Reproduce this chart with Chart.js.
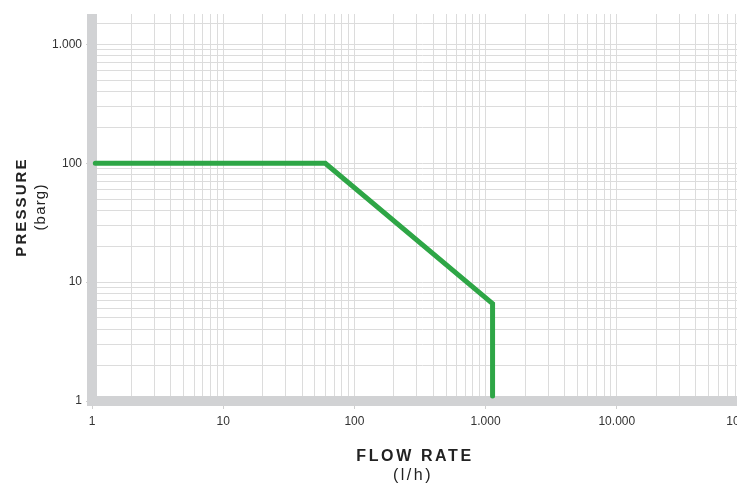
<!DOCTYPE html>
<html>
<head>
<meta charset="utf-8">
<script src="https://cdn.jsdelivr.net/npm/chart.js@4/dist/chart.umd.min.js"></script>
<style>
  html, body { margin: 0; padding: 0; background: #fff; }
  #wrap { position: absolute; left: 0; top: 0; width: 737px; height: 483px; overflow: hidden; }
  #c { position: absolute; left: 0; top: 0; }
  .t { position: absolute; font-family: "Liberation Sans", Arial, Helvetica, sans-serif; color: #222; white-space: nowrap; line-height: 1; }
  #yt1 { font-weight: bold; font-size: 15px; letter-spacing: 2.1px; left: 20px; top: 207px; transform: translate(-50%, -50%) rotate(-90deg); }
  #yt2 { font-size: 15px; letter-spacing: 1.2px; left: 39px; top: 207px; transform: translate(-50%, -50%) rotate(-90deg); }
  #xt1 { font-weight: bold; font-size: 16px; letter-spacing: 2.6px; left: 415px; top: 456px; transform: translate(-50%, -50%); }
  #xt2 { font-size: 16px; letter-spacing: 2.5px; left: 413px; top: 475px; transform: translate(-50%, -50%); }
</style>
</head>
<body>
<div id="wrap"><canvas id="c" width="778" height="483"></canvas></div>
<div class="t" id="yt1">PRESSURE</div>
<div class="t" id="yt2">(barg)</div>
<div class="t" id="xt1">FLOW RATE</div>
<div class="t" id="xt2">(l/h)</div>
<script>
// ---- data ----
const flowRate = [1.06, 60, 1130, 1130];      // l/h
const pressure = [100, 100, 6.6, 1.1];         // barg

// labelled ticks
const xLabelValues = [1, 10, 100, 1000, 10000, 100000];
const xTickLabels  = ['1', '10', '100', '1.000', '10.000', '100.000'];
const yLabelValues = [1, 10, 100, 1000];
const yTickLabels  = ['1', '10', '100', '1.000'];

// grid line positions
const xGridValues = [1,2,3,4,5,6,7,8,9,
  10,20,30,40,50,60,70,80,90,
  100,200,300,400,500,600,700,800,900,
  1000,2000,3000,4000,5000,6000,7000,8000,9000,
  10000,20000,30000,40000,50000,60000,70000,80000,90000,
  100000];
const yGridValues = [1,2,3,4,5,6,7,8,9,
  10,20,30,40,50,60,70,80,90,
  100,200,300,400,500,600,700,800,900,
  1000,1500];

const xMin = 1, xMax = 100000;
const yMin = 1, yMax = 1800;

const points = flowRate.map((x, i) => ({ x: x, y: pressure[i] }));

const GRID = '#dcdcdc';
const AXIS = '#d1d2d4';
const TICKFONT = { family: '"Liberation Sans", Arial, Helvetica, sans-serif', size: 12 };

function labelFor(values, labels) {
  return function (v) {
    const i = values.indexOf(v);
    return i >= 0 ? labels[i] : '';
  };
}

// keep the axis bars from sticking out above the plot area
const trimTop = {
  id: 'trimTop',
  beforeDatasetsDraw(chart) {
    const ctx = chart.ctx;
    ctx.save();
    ctx.fillStyle = '#ffffff';
    ctx.fillRect(0, 0, chart.width, chart.chartArea.top);
    ctx.restore();
  }
};

new Chart(document.getElementById('c'), {
  type: 'line',
  data: {
    datasets: [{
      data: points,
      borderColor: '#2ea646',
      borderWidth: 5,
      borderCapStyle: 'round',
      borderJoinStyle: 'miter',
      pointRadius: 0,
      pointHoverRadius: 0,
      tension: 0,
      fill: false,
      clip: false
    }]
  },
  plugins: [trimTop],
  options: {
    responsive: false,
    animation: false,
    devicePixelRatio: 1,
    events: [],
    layout: { padding: { left: 0, right: 30, top: 14, bottom: 0 } },
    plugins: { legend: { display: false }, tooltip: { enabled: false } },
    scales: {
      x: {
        type: 'logarithmic',
        position: 'bottom',
        min: xMin,
        max: xMax,
        afterBuildTicks: (s) => { s.ticks = xGridValues.map(v => ({ value: v })); },
        afterFit: (s) => { s.height = 82; },
        grid: {
          color: (ctx) => (ctx.tick && ctx.tick.value === xMin) ? 'rgba(0,0,0,0)' : GRID,
          lineWidth: 1,
          drawTicks: true,
          tickLength: 8,
          tickColor: (ctx) => (ctx.tick && xLabelValues.indexOf(ctx.tick.value) >= 0) ? '#cfcfcf' : 'rgba(0,0,0,0)'
        },
        border: { display: true, color: AXIS, width: 10 },
        ticks: {
          autoSkip: false,
          maxRotation: 0,
          minRotation: 0,
          padding: 5,
          color: '#333',
          font: TICKFONT,
          callback: labelFor(xLabelValues, xTickLabels)
        }
      },
      y: {
        type: 'logarithmic',
        position: 'left',
        min: yMin,
        max: yMax,
        afterBuildTicks: (s) => { s.ticks = yGridValues.map(v => ({ value: v })); },
        afterFit: (s) => { s.width = 92; },
        grid: {
          color: (ctx) => (ctx.tick && ctx.tick.value === yMin) ? 'rgba(0,0,0,0)' : GRID,
          lineWidth: 1,
          drawTicks: true,
          tickLength: 6,
          tickColor: (ctx) => (ctx.tick && yLabelValues.indexOf(ctx.tick.value) >= 0) ? '#cfcfcf' : 'rgba(0,0,0,0)'
        },
        border: { display: true, color: AXIS, width: 10 },
        ticks: {
          autoSkip: false,
          padding: 4,
          color: '#333',
          font: TICKFONT,
          callback: labelFor(yLabelValues, yTickLabels)
        }
      }
    }
  }
});
</script>
</body>
</html>
